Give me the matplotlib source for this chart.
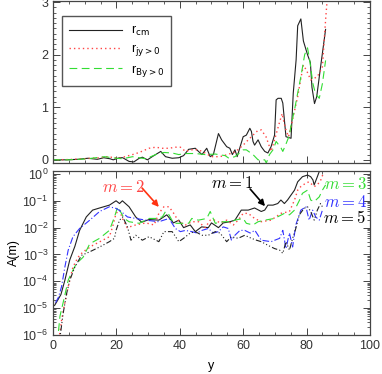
import matplotlib
matplotlib.use("Agg")
import matplotlib.pyplot as plt
from matplotlib.ticker import MultipleLocator, LogLocator, NullFormatter

plt.rcParams['font.family'] = ['Liberation Sans', 'DejaVu Sans']
plt.rcParams['font.size'] = 9

# ---------------- top panel data ----------------
rcm_x = [0, 4, 8, 11, 14, 16, 18, 19, 21, 22, 24, 25.5, 27.2, 28.2, 29.8, 31.3, 34, 35.5, 37.6,
         39.7, 41.2, 42.8, 44.9, 45.9, 47, 48.5, 49.6, 50.6, 52.2, 53.2, 54.8, 55.8, 56.6, 57.4,
         58.1, 58.9, 60, 61, 62.1, 62.6, 63.1, 63.6, 64.7, 65.7, 66.8, 67.8, 68.8, 69.9, 70.4, 71,
         72, 72.5, 73.5, 75.1, 75.8, 76.7, 77.2, 78.2, 79, 80.3, 81.2, 81.7, 82.5, 83.2, 84.4, 86]
rcm_y = [0, 0.0, 0.01, 0.03, 0.01, 0.04, 0.02, 0.0, 0.04, 0.04, -0.03, -0.04, 0.03, 0.05, 0.0,
         0.06, 0.16, 0.06, 0.03, 0.04, 0.08, 0.2, 0.22, 0.16, 0.1, 0.22, 0.06, 0.1, 0.5, 0.38,
         0.25, 0.22, 0.1, 0.19, 0.06, 0.22, 0.44, 0.47, 0.6, 0.54, 0.35, 0.28, 0.38, 0.25, 0.16,
         0.13, 0.25, 0.47, 1.14, 1.17, 1.17, 1.08, 0.44, 0.41, 1.27, 1.9, 2.55, 2.68, 2.26, 2.0,
         1.85, 1.38, 1.07, 1.2, 1.76, 2.48]

rjy_x = [0, 5, 9.4, 14.7, 17, 20.9, 25.1, 27.2, 30.3, 32.4, 34.5, 36.6, 38.6, 40.2, 41.8, 43.3,
         45.9, 48, 50, 52.7, 55, 57.5, 60, 61.6, 63.1, 64.5, 65.7, 67.2, 68.3, 68.8, 69.9, 71.4,
         72.3, 72.8, 73.5, 74.3, 75.1, 76, 77.2, 78.2, 79, 80, 81.3, 83.4, 85, 86, 86.4]
rjy_y = [0, 0.005, 0.02, 0.04, 0.06, 0.03, 0.1, 0.14, 0.22, 0.24, 0.22, 0.22, 0.24, 0.24, 0.16,
         0.19, 0.19, 0.13, 0.06, 0.06, 0.1, 0.15, 0.28, 0.38, 0.47, 0.55, 0.57, 0.44, 0.25, 0.16,
         0.38, 0.7, 0.88, 0.73, 0.57, 0.44, 0.63, 0.88, 1.2, 1.55, 1.8, 1.7, 1.52, 1.58, 1.77,
         2.66, 2.97]

rby_x = [0, 5, 11, 14.7, 16.3, 20, 22, 25.1, 27.2, 29.3, 32.4, 35, 37.6, 39.7, 41.8, 44.9, 48,
         51.2, 54.3, 55.5, 57.4, 60, 61, 63.1, 64.7, 66.8, 67.3, 68.3, 69.4, 70.4, 72, 72.5, 73.5,
         74.6, 75.1, 76.2, 77.2, 78.2, 79.4, 80.3, 81, 82, 82.8, 84, 85, 86]
rby_y = [0, 0.0, 0.02, 0.05, 0.06, 0.03, 0.02, 0.06, 0.04, 0.02, 0.1, 0.14, 0.13, 0.1, 0.12,
         0.12, 0.1, 0.11, 0.08, 0.03, 0.06, 0.19, 0.19, 0.1, 0.0, 0.0, -0.06, 0.1, 0.19, 0.35,
         0.22, 0.16, 0.3, 0.47, 0.66, 0.95, 1.27, 1.58, 2.0, 2.13, 1.89, 1.45, 1.26, 1.17, 1.45,
         1.89]

# ---------------- bottom panel data ----------------
m1_x = [0.5, 1.5, 2.5, 3.75, 5.3, 6.9, 8.4, 10.5, 12.5, 14.7, 17.8, 19.9, 21, 21.9, 24, 26.1,
        28, 30.3, 33.4, 35.9, 38, 39.7, 41.2, 43.3, 44.9, 46.9, 49, 50, 52.2, 53.7, 55.8, 57.4,
        59.4, 61.6, 63.6, 65.7, 66.8, 67.8, 69.4, 70.9, 71.9, 73, 74, 75, 76.2, 77.2, 78.7, 80.3,
        81.3, 82, 82.4, 83.4, 84]
m1_y = [1.26e-5, 2.0e-5, 3.2e-5, 1.1e-4, 6.3e-4, 2.0e-3, 7.9e-3, 0.025, 0.045, 0.054, 0.069,
        0.1, 0.079, 0.1, 0.06, 0.025, 0.016, 0.02, 0.019, 0.03, 0.015, 0.019, 0.01, 0.0126,
        0.0071, 0.0107, 0.01, 0.015, 0.01, 0.015, 0.0166, 0.019, 0.045, 0.045, 0.054, 0.04,
        0.045, 0.069, 0.069, 0.079, 0.107, 0.079, 0.107, 0.158, 0.25, 0.51, 0.79, 0.91, 0.79,
        0.6, 0.39, 0.79, 1.23]

m2_x = [1.5, 2.2, 2.7, 3.75, 4.8, 6.3, 7.9, 9.5, 12.6, 15.7, 17.8, 18.8, 19.9, 21, 21.9, 23.4,
        26.1, 29.3, 31.9, 33.4, 35, 36.6, 38.1, 39.7, 41.8, 43.8, 45.9, 48, 49.6, 51.2, 52.7,
        54.8, 56.9, 58.4, 60, 61.6, 63.6, 65.7, 68.8, 71.9, 74.6, 76.2, 77.2, 78.2, 79.8, 80.8,
        82.4, 83.4, 84.5, 85.3]
m2_y = [5e-7, 1.26e-6, 3.5e-6, 1.6e-5, 6.3e-5, 3.4e-4, 7.9e-4, 1.26e-3, 2.2e-3, 3.4e-3, 4.6e-3,
        0.0107, 0.034, 0.045, 0.022, 0.01, 0.0126, 0.015, 0.0126, 0.034, 0.06, 0.06, 0.034,
        0.0166, 0.0126, 0.0166, 0.0166, 0.01, 0.019, 0.019, 0.015, 0.019, 0.0126, 0.019, 0.034,
        0.034, 0.022, 0.0166, 0.019, 0.034, 0.04, 0.107, 0.25, 0.34, 0.46, 0.51, 0.34, 0.39,
        0.6, 1.07]

m3_x = [1.2, 1.7, 2.2, 3.2, 4.8, 5.8, 7.4, 9.5, 11.6, 14.7, 17.8, 19.4, 20.4, 21.6, 22.5, 24,
        27.2, 30.3, 32.4, 34.5, 35.5, 36.6, 38.1, 40.7, 42.8, 43.8, 45.9, 48.5, 49.6, 51.2, 53.7,
        56.3, 57.4, 60, 61, 63.1, 64.7, 66.8, 69.9, 73, 74.6, 76.2, 77.8, 78.7, 80.3, 81.3, 82.4,
        84, 85, 86]
m3_y = [5e-7, 1.26e-6, 5e-6, 1.6e-5, 1.1e-4, 2.0e-4, 4.6e-4, 7.9e-4, 2.5e-3, 4e-3, 7.9e-3, 0.025,
        0.06, 0.034, 0.022, 0.0166, 0.0145, 0.022, 0.022, 0.025, 0.04, 0.03, 0.0145, 0.0145,
        0.0145, 0.022, 0.019, 0.022, 0.04, 0.0145, 0.0166, 0.0166, 0.019, 0.022, 0.0145, 0.0126,
        0.0166, 0.019, 0.022, 0.034, 0.03, 0.045, 0.107, 0.19, 0.25, 0.107, 0.093, 0.14, 0.25,
        0.39]

m4_x = [0.8, 1.7, 2.7, 3.75, 4.8, 6.3, 8.4, 11.6, 14.7, 17.8, 19.9, 21.5, 23.5, 26.1, 29.3, 33.4,
        36.6, 38.6, 40.2, 41.8, 43.8, 45.4, 47, 49, 50.6, 52.2, 53.7, 55.3, 56.3, 57.4, 59, 60.5,
        62.2, 63.7, 65.7, 68.8, 71.5, 72.5, 73.5, 74.6, 75.6, 76.6, 78.2, 79.8, 80.8, 81.9, 82.9,
        84, 85]
m4_y = [1.6e-5, 2.5e-5, 6.3e-5, 3.4e-4, 1.45e-3, 4.6e-3, 9.3e-3, 0.019, 0.04, 0.06, 0.052, 0.04,
        0.025, 0.022, 0.019, 0.0166, 0.022, 9.3e-3, 7.1e-3, 7.9e-3, 7.1e-3, 6.3e-3, 7.9e-3,
        9.3e-3, 6.3e-3, 7.1e-3, 0.0107, 9.3e-3, 3.4e-3, 5.2e-3, 7.9e-3, 7.9e-3, 6.3e-3, 7.9e-3,
        3.4e-3, 3.0e-3, 4e-3, 7.9e-3, 1.66e-3, 6.3e-3, 1.9e-3, 0.0126, 0.045, 0.06, 0.019, 0.045,
        0.025, 0.019, 0.045]

m5_x = [1.5, 2.2, 3.2, 4.3, 5.3, 6.9, 9, 11.6, 14.7, 17.8, 19.4, 19.9, 21, 22, 23.5, 24.6, 26.1,
        28.2, 30.3, 33.4, 35, 37.6, 39.7, 41.2, 43.3, 44.9, 47, 49, 51.2, 52.7, 54.8, 56.3, 58.4,
        60.5, 62.6, 64.2, 65.7, 67.8, 69.9, 71.5, 72.5, 73.5, 74.6, 75.6, 76.6, 77.7, 79.2, 80.3,
        81.3, 82.4, 83.4, 84.4, 85.3]
m5_y = [3.2e-7, 7.9e-7, 6.3e-6, 3.5e-5, 1.1e-4, 3.4e-4, 9.3e-4, 1.26e-3, 1.9e-3, 3.0e-3, 4e-3,
        7.9e-3, 0.019, 0.025, 0.0107, 3.4e-3, 5.2e-3, 3.4e-3, 4.6e-3, 3.0e-3, 7.1e-3, 7.1e-3,
        3.0e-3, 4e-3, 6.3e-3, 7.1e-3, 5.2e-3, 5.2e-3, 7.1e-3, 6.3e-3, 3.0e-3, 4.6e-3, 4e-3,
        5.2e-3, 4e-3, 3.4e-3, 3.0e-3, 2.2e-3, 1.66e-3, 1.45e-3, 1.1e-3, 3.0e-3, 1.45e-3, 4e-3,
        9.3e-3, 0.03, 0.052, 0.06, 0.04, 0.019, 0.045, 0.079, 0.052]

legend_labels = [r'r$_{\rm cm}$', r'r$_{\rm jy>0}$', r'r$_{\rm By>0}$']
mode_labels = [r'$m = 1$', r'$m = 2$', r'$m = 3$', r'$m = 4$', r'$m = 5$']

C_BLK = '#222222'
C_RED = '#ff4444'
C_GRN = '#33dd33'
C_BLU = '#3333ff'
FRAME = '#444444'

fig = plt.figure(figsize=(3.82, 3.74), dpi=100)
ax1 = fig.add_axes([0.1387, 0.5642, 0.8298, 0.4330])
ax2 = fig.add_axes([0.1387, 0.1043, 0.8298, 0.4385])

lw = 0.8
ax1.plot(rcm_x, rcm_y, color=C_BLK, lw=lw, ls='-', label=legend_labels[0])
ax1.plot(rjy_x, rjy_y, color=C_RED, lw=1.0, ls=(0, (1, 2.2)), label=legend_labels[1])
ax1.plot(rby_x, rby_y, color=C_GRN, lw=lw, ls=(0, (7, 4)), label=legend_labels[2])
ax1.set_xlim(0, 100)
ax1.set_ylim(-0.06, 3.02)
ax1.xaxis.set_major_locator(MultipleLocator(20))
ax1.xaxis.set_minor_locator(MultipleLocator(5))
ax1.yaxis.set_major_locator(MultipleLocator(1))
ax1.yaxis.set_minor_locator(MultipleLocator(0.1))
ax1.set_xticklabels([])
leg = ax1.legend(loc='upper left', bbox_to_anchor=(0.028, 0.905), borderaxespad=0,
                 fancybox=False, framealpha=1, edgecolor='#555555', fontsize=9,
                 handlelength=4.2, handletextpad=0.7, labelspacing=0.35, borderpad=0.6)
leg.get_frame().set_linewidth(1.0)

ax2.semilogy(m1_x, m1_y, color=C_BLK, lw=lw, ls='-')
ax2.semilogy(m2_x, m2_y, color=C_RED, lw=1.0, ls=(0, (1, 2.2)))
ax2.semilogy(m3_x, m3_y, color=C_GRN, lw=lw, ls=(0, (7, 4)))
ax2.semilogy(m4_x, m4_y, color=C_BLU, lw=lw, ls=(0, (6, 2, 1, 2)))
ax2.semilogy(m5_x, m5_y, color=C_BLK, lw=lw, ls=(0, (5, 2, 1, 2, 1, 2, 1, 2)))
ax2.set_xlim(0, 100)
ax2.set_ylim(1e-6, 1.29)
ax2.xaxis.set_major_locator(MultipleLocator(20))
ax2.xaxis.set_minor_locator(MultipleLocator(5))
ax2.yaxis.set_major_locator(LogLocator(base=10, numticks=10))
ax2.yaxis.set_minor_locator(LogLocator(base=10, subs=range(2, 10), numticks=10))
ax2.yaxis.set_minor_formatter(NullFormatter())
ax2.set_xlabel('y', fontsize=9, labelpad=6)
ax2.set_ylabel('A(m)', fontsize=9, labelpad=2)

for ax in (ax1, ax2):
    ax.tick_params(which='both', direction='in', top=True, right=True, colors=FRAME,
                   labelcolor='#333333', labelsize=9)
    ax.tick_params(which='major', length=5, width=0.7)
    ax.tick_params(which='minor', length=2.5, width=0.6)
    for s in ax.spines.values():
        s.set_color(FRAME)
        s.set_linewidth(0.9)

fs = 12
ax2.text(22.2, 0.33, mode_labels[1], color=C_RED, fontsize=fs, ha='center', va='center',
         math_fontfamily='cm')
ax2.annotate('', xy=(33.4, 0.059), xytext=(28.1, 0.30),
             arrowprops=dict(arrowstyle='-|>', color='#ff3311', lw=1.2,
                             shrinkA=0, shrinkB=0, mutation_scale=9))
ax2.text(56.6, 0.46, mode_labels[0], color='black', fontsize=fs, ha='center', va='center',
         math_fontfamily='cm')
ax2.annotate('', xy=(66.9, 0.063), xytext=(62.2, 0.275),
             arrowprops=dict(arrowstyle='-|>', color='black', lw=1.2,
                             shrinkA=0, shrinkB=0, mutation_scale=9))
ax2.text(92.2, 0.43, mode_labels[2], color=C_GRN, fontsize=fs, ha='center', va='center',
         math_fontfamily='cm')
ax2.text(92.2, 0.089, mode_labels[3], color=C_BLU, fontsize=fs, ha='center', va='center',
         math_fontfamily='cm')
ax2.text(91.9, 0.023, mode_labels[4], color='black', fontsize=fs, ha='center', va='center',
         math_fontfamily='cm')

fig.savefig('out.png', dpi=100)
